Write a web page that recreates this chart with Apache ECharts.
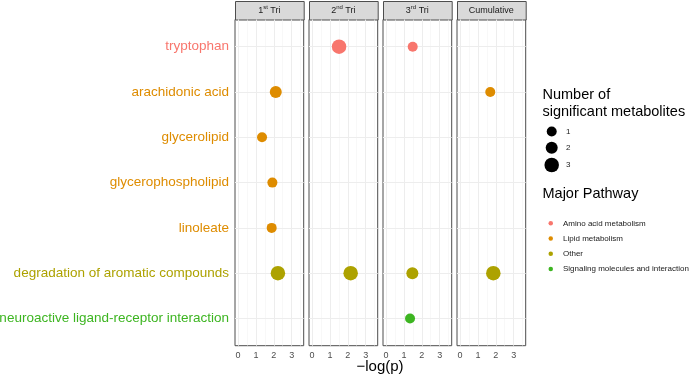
<!DOCTYPE html>
<html>
<head>
<meta charset="utf-8">
<script src="https://cdn.jsdelivr.net/npm/echarts@6/dist/echarts.min.js"></script>
<style>
  html, body { margin: 0; padding: 0; background: #fff; }
  #chart { width: 700px; height: 378px; }
</style>
</head>
<body>
<div id="chart"></div>
<script>
// facets
const panelMain = ['1', '2', '3', 'Cumulative'];
const panelSup = ['st', 'nd', 'rd', ''];
const panelTail = [' Tri', ' Tri', ' Tri', ''];

// y categories (top to bottom) and their pathway
const terms = ['tryptophan', 'arachidonic acid', 'glycerolipid', 'glycerophospholipid',
  'linoleate', 'degradation of aromatic compounds', 'neuroactive ligand-receptor interaction'];
const termPathway = [0, 1, 1, 1, 1, 2, 3];

const pathways = ['Amino acid metabolism', 'Lipid metabolism', 'Other', 'Signaling molecules and interaction'];
const pathwayColors = ['#F8766D', '#DE8C00', '#ADA200', '#3DB521'];

// points
const pointPanel = [0, 0, 0, 0, 0, 1, 1, 2, 2, 2, 3, 3];
const pointTerm  = [1, 2, 3, 4, 5, 0, 5, 0, 5, 6, 1, 5];
const pointLogP  = [2.11, 1.34, 1.92, 1.88, 2.23, 1.51, 2.16, 1.49, 1.47, 1.34, 1.69, 1.86];
const pointCount = [2, 1, 1, 1, 3, 3, 3, 1, 2, 1, 1, 3];

const countLevels = ['1', '2', '3'];
const xTicks = [0, 1, 2, 3];
const xMinor = [0.5, 1.5, 2.5, 3.5];

const FONT = 'Liberation Sans, Arial, sans-serif';
const sizeFor = { 1: 10, 2: 12, 3: 14.5 };
const yIdx = terms.map((t, i) => i);

const P_LEFT = 235, P_STEP = 74, P_W = 68.7, P_TOP = 19.5, P_H = 326.2;

let grids = [], xAxes = [], yAxes = [], series = [], graphics = [];

panelMain.forEach((nm, p) => {
  grids.push({
    left: P_LEFT + p * P_STEP, top: P_TOP, width: P_W, height: P_H,
    outerBoundsMode: 'none', containLabel: false,
    show: true, borderColor: '#4d4d4d', borderWidth: 1, backgroundColor: '#fff'
  });
  xAxes.push({
    type: 'value', gridIndex: p, min: -0.175, max: 3.675,
    axisLine: { show: false },
    axisTick: { show: true, customValues: xTicks, length: 3, lineStyle: { color: '#333' } },
    axisLabel: { customValues: xTicks, fontSize: 9, color: '#4d4d4d', margin: 5.5, fontFamily: FONT },
    splitLine: { show: false }
  });
  yAxes.push({
    type: 'value', gridIndex: p, min: -0.6, max: 6.6, inverse: true,
    axisLine: { show: false },
    axisTick: { show: p === 0, customValues: yIdx, length: 3, lineStyle: { color: '#333' } },
    axisLabel: {
      show: p === 0, customValues: yIdx, fontSize: 13.5, margin: 6, fontFamily: FONT,
      formatter: v => terms[v],
      color: v => pathwayColors[termPathway[v]]
    },
    splitLine: { show: false }
  });

  // panel gridlines
  series.push({
    type: 'line', xAxisIndex: p, yAxisIndex: p, data: [], silent: true,
    markLine: {
      silent: true, symbol: 'none', animation: false, label: { show: false },
      lineStyle: { color: '#F3F3F3', type: 'solid', width: 0.6 },
      data: xMinor.map(v => ({ xAxis: v }))
    }
  });
  series.push({
    type: 'line', xAxisIndex: p, yAxisIndex: p, data: [], silent: true,
    markLine: {
      silent: true, symbol: 'none', animation: false, label: { show: false },
      lineStyle: { color: '#EDEDED', type: 'solid', width: 1 },
      data: xTicks.map(v => ({ xAxis: v })).concat(yIdx.map(v => ({ yAxis: v })))
    }
  });

  // points, one series per pathway so the legend links up
  pathways.forEach((pw, k) => {
    let pts = [];
    pointPanel.forEach((pp, i) => {
      if (pp === p && termPathway[pointTerm[i]] === k) {
        pts.push([pointLogP[i], pointTerm[i], pointCount[i]]);
      }
    });
    series.push({
      name: pw, type: 'scatter', xAxisIndex: p, yAxisIndex: p,
      data: pts, symbolSize: d => sizeFor[d[2]],
      itemStyle: { color: pathwayColors[k], opacity: 1 },
      z: 5
    });
  });

  // strip header
  graphics.push({
    type: 'rect', left: P_LEFT + p * P_STEP, top: 1,
    shape: { width: P_W, height: P_TOP - 1 },
    style: { fill: '#D9D9D9', stroke: '#4d4d4d', lineWidth: 1 }
  });
  graphics.push({
    type: 'text', x: P_LEFT + p * P_STEP + P_W / 2, y: 10.5,
    style: {
      text: '{n|' + nm + '}' + (panelSup[p] ? '{s|' + panelSup[p] + '}' : '') + (panelTail[p] ? '{n|' + panelTail[p] + '}' : ''),
      align: 'center', verticalAlign: 'middle',
      rich: {
        n: { fontSize: 9, fontFamily: FONT, fill: '#1a1a1a', lineHeight: 12 },
        s: { fontSize: 6, fontFamily: FONT, fill: '#1a1a1a', verticalAlign: 'top', lineHeight: 12, padding: [0, 0, 4, 0] }
      }
    }
  });
});

// dummy series for the size legend
countLevels.forEach(c => {
  series.push({ name: c, type: 'scatter', data: [], xAxisIndex: 0, yAxisIndex: 0, itemStyle: { color: '#000' } });
});

// size legend: one component per level so the circles can differ
const sizeCy = [131.5, 147.7, 165];
const legends = countLevels.map((c, i) => {
  const w = sizeFor[c];
  return {
    data: [{ name: c, icon: 'circle', itemStyle: { color: '#000', opacity: 1 } }],
    selectedMode: false, orient: 'vertical',
    left: 551.7 - w / 2, top: sizeCy[i] - w / 2, padding: 0,
    itemWidth: w, itemHeight: w,
    textStyle: { fontSize: 8, color: '#1a1a1a', fontFamily: FONT, padding: [0, 0, 0, 566 - (551.7 + w / 2 + 5)] }
  };
});
legends.push({
  data: pathways.map(n => ({ name: n, icon: 'circle' })), selectedMode: false, orient: 'vertical',
  left: 548.5, top: 218.3, padding: 0, itemWidth: 4.5, itemHeight: 4.5, itemGap: 5.2,
  textStyle: { fontSize: 8, lineHeight: 10, color: '#1a1a1a', fontFamily: FONT, padding: [0, 0, 0, 5] }
});

graphics.push({ type: 'text', x: 542.5, y: 95, style: { text: 'Number of', fontSize: 14.5, fontFamily: FONT, fill: '#000', verticalAlign: 'middle' } });
graphics.push({ type: 'text', x: 542.5, y: 112, style: { text: 'significant metabolites', fontSize: 14.5, fontFamily: FONT, fill: '#000', verticalAlign: 'middle' } });
graphics.push({ type: 'text', x: 542.5, y: 194, style: { text: 'Major Pathway', fontSize: 14.5, fontFamily: FONT, fill: '#000', verticalAlign: 'middle' } });
graphics.push({ type: 'text', x: 380, y: 367, style: { text: '\u2212log(p)', fontSize: 15, fontFamily: FONT, fill: '#000', align: 'center', verticalAlign: 'middle' } });

const chart = echarts.init(document.getElementById('chart'), null, { renderer: 'canvas' });
chart.setOption({
  animation: false,
  backgroundColor: '#fff',
  grid: grids, xAxis: xAxes, yAxis: yAxes,
  legend: legends,
  series: series,
  graphic: graphics
});
</script>
</body>
</html>
